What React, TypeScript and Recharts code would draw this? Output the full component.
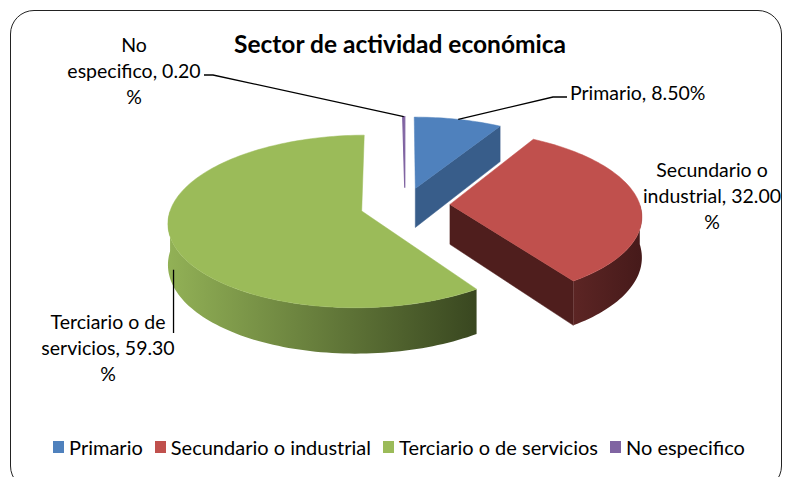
import React from "react";
import { PieChart, Pie, Legend, Cell } from "recharts";

const categories = ["Primario", "Secundario o industrial", "Terciario o de servicios", "No especifico"];
const values = [8.5, 32.0, 59.3, 0.2];
const nameBreaks = [0, 2, 3, 1];
const title = "Sector de actividad económica";

const topColors = ["#4F81BD", "#C0504D", "#9BBB59", "#8064A2"];
const sideColors = [
  ["#3B6190", "#2F4E75"],
  ["#5C2524", "#461A1A"],
  ["#92B156", "#394720"],
  ["#6A5288", "#584475"],
];
const cutColors = ["#385D8A", "#4F1E1D", "#6E8A3A", "#6A5288"];
const explode = [40, 45, 45, 40];

const FONT = "Lato, 'Noto Sans', sans-serif";
const RAD = Math.PI / 180;
const K = 0.12;
const YR = 0.44;
const DEPTH = 40;
const LINE_H = 26;
const LABEL_FS = 19.5;

const labelStyles = [
  { x: 570, y: 100, anchor: "start", leader: { angle: null, z: 0, via: [[553, 97], [567, 97]] } },
  { x: 712, y: 177, anchor: "middle", leader: null },
  { x: 108, y: 329, anchor: "middle", leader: { angle: 202, z: 0.6, vertical: 333 } },
  { x: 134, y: 52, anchor: "middle", leader: { angle: null, z: 0, via: [[213, 75], [204, 75]] } },
];

const chartData = categories.map((name, i) => ({ name, value: values[i], fill: topColors[i] }));

function makeLines(i: number): string[] {
  const v = values[i].toFixed(2);
  const b = nameBreaks[i];
  if (!b) return [`${categories[i]}, ${v}%`];
  const w = categories[i].split(" ");
  return [w.slice(0, b).join(" "), `${w.slice(b).join(" ")}, ${v}`, "%"];
}

function sliceGeom(props: any, i: number) {
  const { cx, cy, outerRadius: R } = props;
  const sa = props.startAngle, ea = props.endAngle;
  const midDeg = sa != null && ea != null ? (sa + ea) / 2 : props.midAngle;
  const mid = midDeg * RAD;
  const du = (explode[i] / R) * Math.cos(mid);
  const dv = (explode[i] / R) * Math.sin(mid);
  const P = (u: number, v: number, z: number) => {
    const s = 1 / (1 + K * v);
    return [cx + R * u * s, cy - R * YR * v * s + z * s];
  };
  const pt = (aDeg: number, r: number, z: number) =>
    P(du + r * Math.cos(aDeg * RAD), dv + r * Math.sin(aDeg * RAD), z);
  return { pt, midDeg };
}

function arcPts(pt: any, a1: number, a2: number, z: number) {
  const n = Math.max(2, Math.ceil(Math.abs(a2 - a1) / 1.5));
  const arr: number[][] = [];
  for (let k = 0; k <= n; k++) {
    const a = a1 + ((a2 - a1) * k) / n;
    arr.push(pt(a, 1, z));
  }
  return arr;
}

const toPath = (pts: number[][]) =>
  "M" + pts.map((p) => p[0].toFixed(2) + "," + p[1].toFixed(2)).join("L") + "Z";

function Slice3D(props: any) {
  const name = props.payload?.name ?? props.name;
  const i = categories.indexOf(name);
  if (i < 0) return null;
  const hi = Math.max(props.startAngle, props.endAngle);
  const lo = Math.min(props.startAngle, props.endAngle);
  const { pt } = sliceGeom(props, i);
  const apexT = pt(0, 0, 0);
  const apexB = pt(0, 0, DEPTH);
  const faces: any[] = [];
  const cutFace = (a: number) => toPath([apexT, pt(a, 1, 0), pt(a, 1, DEPTH), apexB]);
  if (Math.cos(hi * RAD) < -0.05)
    faces.push(<path key="c1" d={cutFace(hi)} fill={cutColors[i]} stroke={cutColors[i]} strokeWidth={0.5} />);
  if (Math.cos(lo * RAD) > 0.05)
    faces.push(<path key="c0" d={cutFace(lo)} fill={cutColors[i]} stroke={cutColors[i]} strokeWidth={0.5} />);
  for (let k = -2; k <= 1; k++) {
    const b0 = Math.max(lo, -180 + 360 * k);
    const b1 = Math.min(hi, 360 * k);
    if (b1 > b0 + 0.01) {
      const pts = arcPts(pt, b0, b1, 0).concat(arcPts(pt, b1, b0, DEPTH));
      faces.push(<path key={"s" + k} d={toPath(pts)} fill={`url(#side-${i})`} />);
    }
  }
  const top = [apexT, ...arcPts(pt, hi, lo, 0)];
  return (
    <g>
      <defs>
        <linearGradient id={`side-${i}`} x1="0" y1="0" x2="1" y2="0">
          <stop offset="0%" stopColor={sideColors[i][0]} />
          <stop offset="100%" stopColor={sideColors[i][1]} />
        </linearGradient>
      </defs>
      {faces}
      <path d={toPath(top)} fill={topColors[i]} stroke={topColors[i]} strokeWidth={i === 3 ? 1.2 : 0.5} />
    </g>
  );
}

function renderLabel(props: any) {
  const name = props.payload?.name ?? props.name;
  const i = categories.indexOf(name);
  if (i < 0) return null;
  const ls = labelStyles[i];
  const lines = makeLines(i);
  const { pt, midDeg } = sliceGeom(props, i);
  let leader: any = null;
  if (ls.leader) {
    const L: any = ls.leader;
    const start = pt(L.angle == null ? midDeg : L.angle, 1, DEPTH * L.z);
    const pts = L.vertical != null ? [start, [start[0], L.vertical]] : [start, ...L.via];
    leader = (
      <polyline
        points={pts.map((p: number[]) => p.join(",")).join(" ")}
        fill="none"
        stroke="#000"
        strokeWidth={1.3}
      />
    );
  }
  return (
    <g key={`lbl-${i}`}>
      {leader}
      <text x={ls.x} y={ls.y} textAnchor={ls.anchor as any} fontFamily={FONT} fontSize={LABEL_FS} fill="#000">
        {lines.map((t, k) => (
          <tspan key={k} x={ls.x} y={ls.y + k * LINE_H}>
            {t}
          </tspan>
        ))}
      </text>
    </g>
  );
}

function renderLegend(props: any) {
  const payload = [...(props.payload || [])].sort(
    (a: any, b: any) => categories.indexOf(a.value) - categories.indexOf(b.value)
  );
  return (
    <div
      style={{
        display: "flex",
        justifyContent: "center",
        alignItems: "center",
        fontFamily: FONT,
        fontSize: 20,
        color: "#000",
        paddingLeft: 22,
        whiteSpace: "nowrap",
      }}
    >
      {payload.map((p: any, k: number) => (
        <span key={k} style={{ display: "flex", alignItems: "center", marginRight: 12 }}>
          <span style={{ width: 11, height: 12, background: p.color, marginRight: 5, display: "inline-block" }} />
          {p.value}
        </span>
      ))}
    </div>
  );
}

export default function App() {
  return (
    <div
      style={{
        position: "fixed",
        left: 0,
        top: 0,
        width: 788,
        height: 477,
        background: "#fff",
        overflow: "hidden",
      }}
    >
      <div
        style={{
          position: "absolute",
          left: 10,
          top: 10,
          width: 772,
          height: 480,
          border: "1.5px solid #222",
          borderRadius: 24,
          boxSizing: "border-box",
        }}
      />
      <div
        style={{
          position: "absolute",
          left: 0,
          width: 800,
          top: 29,
          textAlign: "center",
          fontFamily: FONT,
          fontWeight: 700,
          fontSize: 24.5,
          color: "#000",
          lineHeight: "30px",
        }}
      >
        {title}
      </div>
      <div style={{ position: "absolute", left: 0, top: 0 }}>
        <PieChart width={788} height={477}>
          <Pie
            data={chartData}
            dataKey="value"
            nameKey="name"
            cx={400}
            cy={200}
            outerRadius={190}
            startAngle={90}
            endAngle={-270}
            isAnimationActive={false}
            shape={Slice3D as any}
            activeShape={Slice3D as any}
            inactiveShape={Slice3D as any}
            label={renderLabel}
            labelLine={false}
            stroke="none"
          >
            {chartData.map((d, i) => (
              <Cell key={i} fill={d.fill} />
            ))}
          </Pie>
          <Legend
            content={renderLegend}
            wrapperStyle={{ position: "absolute", left: 0, top: 435, width: 788 }}
          />
        </PieChart>
      </div>
    </div>
  );
}
